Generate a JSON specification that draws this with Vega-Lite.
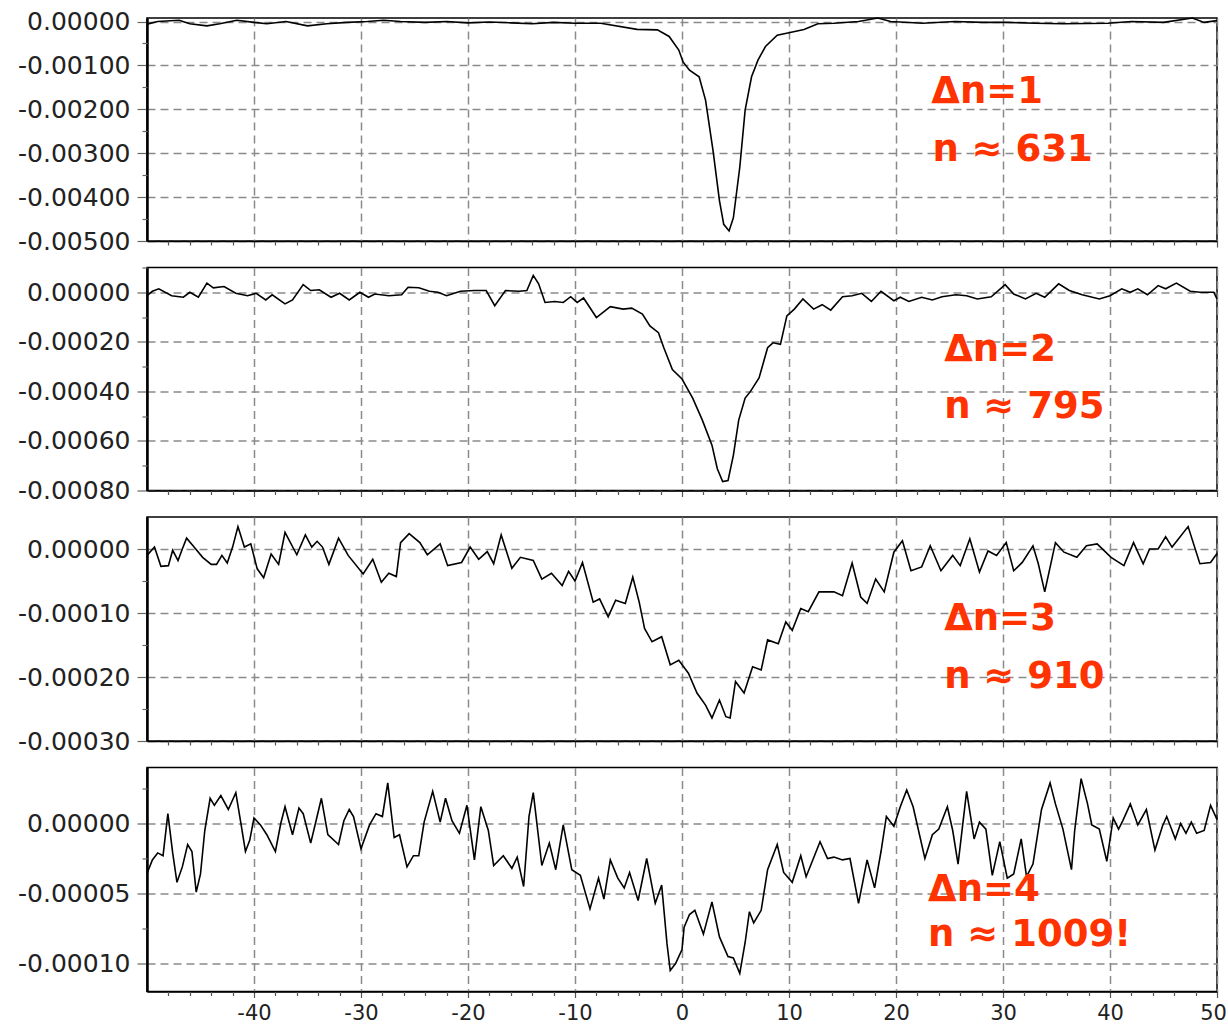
{
  "$schema": "https://vega.github.io/schema/vega-lite/v6.json",
  "padding": {"left": 5, "top": 8, "right": 0, "bottom": 4},
  "bounds": "flush",
  "spacing": 26.5,
  "config": {
    "view": {"stroke": "black", "strokeWidth": 1.5},
    "font": "DejaVu Sans",
    "axis": {"title": null}
  },
  "datasets": {
    "p1": [
      {"x": -50, "y": -0.00006}, {"x": -49, "y": 0.0}, {"x": -47, "y": 0.00003}, {"x": -46, "y": -0.00005},
      {"x": -44.4, "y": -0.0001}, {"x": -43.2, "y": -0.00005}, {"x": -41.6, "y": 0.00003}, {"x": -40, "y": -0.00002},
      {"x": -38.8, "y": -0.00005}, {"x": -37, "y": 0.0}, {"x": -35, "y": -0.0001}, {"x": -33.2, "y": -0.00005},
      {"x": -31.3, "y": -0.00002}, {"x": -29.4, "y": 0.0}, {"x": -27.9, "y": 0.00003}, {"x": -26.3, "y": 0.0},
      {"x": -24, "y": -0.00002}, {"x": -22, "y": 0.0}, {"x": -20, "y": -0.00003}, {"x": -18, "y": -0.00001},
      {"x": -16, "y": -0.00003}, {"x": -14, "y": -0.00005}, {"x": -12, "y": -0.00002}, {"x": -10, "y": -0.00004},
      {"x": -7.6, "y": -0.00004}, {"x": -4.2, "y": -0.00018}, {"x": -2.3, "y": -0.00019}, {"x": -1.2, "y": -0.00034},
      {"x": -0.3, "y": -0.00065}, {"x": 0.1, "y": -0.00092}, {"x": 0.7, "y": -0.00111}, {"x": 1.6, "y": -0.00126},
      {"x": 2.2, "y": -0.00179}, {"x": 2.9, "y": -0.00294}, {"x": 3.5, "y": -0.00408}, {"x": 3.9, "y": -0.00462},
      {"x": 4.4, "y": -0.00477}, {"x": 4.8, "y": -0.00447}, {"x": 5.4, "y": -0.00332}, {"x": 5.9, "y": -0.00202},
      {"x": 6.5, "y": -0.00126}, {"x": 7.1, "y": -0.00088}, {"x": 7.8, "y": -0.00057}, {"x": 8.9, "y": -0.00031},
      {"x": 10.1, "y": -0.00025}, {"x": 11.4, "y": -0.00018}, {"x": 12.7, "y": -0.00005}, {"x": 14.2, "y": -0.00004},
      {"x": 16.5, "y": 0.0}, {"x": 18.3, "y": 0.00008}, {"x": 19.5, "y": 0.0}, {"x": 22.5, "y": -0.00004},
      {"x": 25.5, "y": 0.0}, {"x": 28.1, "y": -0.00002}, {"x": 30.4, "y": -0.00002}, {"x": 33, "y": -0.00004},
      {"x": 35.6, "y": -0.00005}, {"x": 39.8, "y": -0.00004}, {"x": 42, "y": 0.0}, {"x": 45, "y": -0.00002},
      {"x": 47.7, "y": 0.00008}, {"x": 48.8, "y": -0.00002}, {"x": 50, "y": 0.00002}
    ],
    "p2": [
      {"x": -50, "y": -1.4e-5}, {"x": -49.5, "y": 0.4e-5}, {"x": -48.9, "y": 1.4e-5}, {"x": -47.7, "y": -1.4e-5},
      {"x": -46.6, "y": -2.0e-5}, {"x": -46.0, "y": 0.0}, {"x": -45.2, "y": -2.0e-5}, {"x": -44.4, "y": 3.7e-5},
      {"x": -43.8, "y": 1.8e-5}, {"x": -42.8, "y": 2.3e-5}, {"x": -41.7, "y": -0.4e-5}, {"x": -40.6, "y": -1.4e-5},
      {"x": -39.8, "y": -0.4e-5}, {"x": -38.9, "y": -3.1e-5}, {"x": -38.3, "y": -1.0e-5}, {"x": -37.1, "y": -4.7e-5},
      {"x": -36.4, "y": -3.1e-5}, {"x": -35.4, "y": 3.1e-5}, {"x": -34.7, "y": 0.7e-5}, {"x": -33.9, "y": 1.0e-5},
      {"x": -32.8, "y": -2.0e-5}, {"x": -32.0, "y": -0.4e-5}, {"x": -31.1, "y": -3.1e-5}, {"x": -30.1, "y": 0.0},
      {"x": -29.3, "y": -2.0e-5}, {"x": -28.7, "y": -0.7e-5}, {"x": -27.4, "y": -1.4e-5}, {"x": -26.2, "y": -1.0e-5},
      {"x": -25.6, "y": 2.0e-5}, {"x": -24.6, "y": 1.8e-5}, {"x": -23.6, "y": 0.4e-5}, {"x": -22.8, "y": 0.0},
      {"x": -22.0, "y": -1.4e-5}, {"x": -20.7, "y": 0.4e-5}, {"x": -19.4, "y": 0.7e-5}, {"x": -18.3, "y": 0.7e-5},
      {"x": -17.5, "y": -5.4e-5}, {"x": -16.5, "y": 0.7e-5}, {"x": -15.2, "y": 0.4e-5}, {"x": -14.5, "y": 0.7e-5},
      {"x": -13.9, "y": 6.8e-5}, {"x": -13.4, "y": 3.4e-5}, {"x": -12.8, "y": -4.1e-5}, {"x": -11.9, "y": -3.7e-5},
      {"x": -11.1, "y": -4.1e-5}, {"x": -10.4, "y": -1.8e-5}, {"x": -9.8, "y": -4.1e-5}, {"x": -9.2, "y": -2.3e-5},
      {"x": -8.0, "y": -10.2e-5}, {"x": -6.7, "y": -5.8e-5}, {"x": -5.5, "y": -6.8e-5}, {"x": -4.7, "y": -6.4e-5},
      {"x": -3.7, "y": -8.8e-5}, {"x": -3.0, "y": -13.6e-5}, {"x": -2.2, "y": -16.3e-5}, {"x": -1.7, "y": -22.4e-5},
      {"x": -0.9, "y": -31.2e-5}, {"x": 0.0, "y": -35.0e-5}, {"x": 1.0, "y": -42.7e-5}, {"x": 1.9, "y": -51.6e-5},
      {"x": 2.8, "y": -61.7e-5}, {"x": 3.3, "y": -71.2e-5}, {"x": 3.8, "y": -76.4e-5}, {"x": 4.3, "y": -76.0e-5},
      {"x": 4.8, "y": -65.8e-5}, {"x": 5.3, "y": -51.6e-5}, {"x": 5.9, "y": -42.7e-5}, {"x": 6.4, "y": -40.0e-5},
      {"x": 7.2, "y": -34.6e-5}, {"x": 8.0, "y": -22.4e-5}, {"x": 8.5, "y": -20.4e-5}, {"x": 9.2, "y": -21.0e-5},
      {"x": 9.8, "y": -9.5e-5}, {"x": 10.5, "y": -6.8e-5}, {"x": 11.3, "y": -2.7e-5}, {"x": 12.3, "y": -6.8e-5},
      {"x": 13.1, "y": -5.0e-5}, {"x": 13.9, "y": -7.2e-5}, {"x": 15.0, "y": -1.8e-5}, {"x": 15.9, "y": -1.4e-5},
      {"x": 16.8, "y": -0.4e-5}, {"x": 17.7, "y": -3.7e-5}, {"x": 18.6, "y": 0.4e-5}, {"x": 19.8, "y": -3.4e-5},
      {"x": 20.4, "y": -2.0e-5}, {"x": 21.2, "y": -3.7e-5}, {"x": 22.4, "y": -2.0e-5}, {"x": 23.4, "y": -3.1e-5},
      {"x": 24.3, "y": -1.8e-5}, {"x": 25.6, "y": -1.0e-5}, {"x": 26.6, "y": -1.4e-5}, {"x": 27.6, "y": -2.7e-5},
      {"x": 28.9, "y": -1.8e-5}, {"x": 30.2, "y": 3.1e-5}, {"x": 31.0, "y": -0.7e-5}, {"x": 32.1, "y": -2.7e-5},
      {"x": 33.1, "y": -0.4e-5}, {"x": 33.9, "y": -2.0e-5}, {"x": 35.2, "y": 3.4e-5}, {"x": 36.2, "y": 0.7e-5},
      {"x": 37.4, "y": -1.0e-5}, {"x": 39.0, "y": -2.7e-5}, {"x": 40.0, "y": -1.4e-5}, {"x": 41.1, "y": 1.4e-5},
      {"x": 41.9, "y": 0.0}, {"x": 42.6, "y": 1.4e-5}, {"x": 43.5, "y": -1.0e-5}, {"x": 44.5, "y": 2.7e-5},
      {"x": 45.2, "y": 1.4e-5}, {"x": 46.2, "y": 3.7e-5}, {"x": 47.5, "y": 0.4e-5}, {"x": 48.4, "y": 0.0},
      {"x": 49.7, "y": 0.0}, {"x": 50.0, "y": -2.7e-5}
    ],
    "p3": [
      {"x": -50, "y": -1.0e-5}, {"x": -49.3, "y": 0.3e-5}, {"x": -48.7, "y": -2.7e-5}, {"x": -48.0, "y": -2.6e-5},
      {"x": -47.6, "y": -0.2e-5}, {"x": -47.1, "y": -1.8e-5}, {"x": -46.7, "y": 0.0}, {"x": -46.3, "y": 1.7e-5},
      {"x": -45.6, "y": 0.3e-5}, {"x": -44.8, "y": -1.3e-5}, {"x": -44.0, "y": -2.4e-5}, {"x": -43.5, "y": -2.4e-5},
      {"x": -43.0, "y": -1.0e-5}, {"x": -42.5, "y": -2.2e-5}, {"x": -42.0, "y": 0.3e-5}, {"x": -41.5, "y": 3.5e-5},
      {"x": -40.9, "y": 0.3e-5}, {"x": -40.3, "y": 0.8e-5}, {"x": -39.7, "y": -3.1e-5}, {"x": -39.1, "y": -4.5e-5},
      {"x": -38.4, "y": -0.8e-5}, {"x": -37.7, "y": -2.4e-5}, {"x": -37.1, "y": 2.6e-5}, {"x": -36.0, "y": -0.9e-5},
      {"x": -35.2, "y": 2.2e-5}, {"x": -34.6, "y": 0.3e-5}, {"x": -34.1, "y": 1.2e-5}, {"x": -33.6, "y": 0.3e-5},
      {"x": -33.0, "y": -2.4e-5}, {"x": -32.1, "y": 1.7e-5}, {"x": -31.2, "y": -1.0e-5}, {"x": -29.8, "y": -3.9e-5},
      {"x": -28.9, "y": -1.6e-5}, {"x": -28.1, "y": -5.2e-5}, {"x": -27.4, "y": -3.8e-5}, {"x": -26.7, "y": -4.3e-5},
      {"x": -26.3, "y": 1.0e-5}, {"x": -25.5, "y": 2.4e-5}, {"x": -24.5, "y": 1.0e-5}, {"x": -23.8, "y": -0.9e-5},
      {"x": -22.6, "y": 0.8e-5}, {"x": -21.9, "y": -2.6e-5}, {"x": -20.6, "y": -2.1e-5}, {"x": -19.8, "y": 0.3e-5},
      {"x": -19.0, "y": -1.6e-5}, {"x": -18.2, "y": -0.4e-5}, {"x": -17.6, "y": -2.3e-5}, {"x": -16.9, "y": 2.2e-5},
      {"x": -15.9, "y": -3.0e-5}, {"x": -15.1, "y": -1.3e-5}, {"x": -13.9, "y": -1.8e-5}, {"x": -13.1, "y": -4.7e-5},
      {"x": -12.2, "y": -3.8e-5}, {"x": -11.2, "y": -5.7e-5}, {"x": -10.6, "y": -3.5e-5}, {"x": -10.0, "y": -5.0e-5},
      {"x": -9.3, "y": -2.1e-5}, {"x": -8.3, "y": -8.3e-5}, {"x": -7.7, "y": -7.8e-5}, {"x": -6.9, "y": -10.6e-5},
      {"x": -6.2, "y": -8.0e-5}, {"x": -5.3, "y": -8.5e-5}, {"x": -4.6, "y": -4.4e-5}, {"x": -4.0, "y": -8.3e-5},
      {"x": -3.5, "y": -12.4e-5}, {"x": -2.8, "y": -14.5e-5}, {"x": -1.9, "y": -13.7e-5}, {"x": -1.1, "y": -18.1e-5},
      {"x": -0.3, "y": -17.4e-5}, {"x": 0.6, "y": -19.4e-5}, {"x": 1.4, "y": -22.5e-5}, {"x": 2.2, "y": -24.4e-5},
      {"x": 2.8, "y": -26.4e-5}, {"x": 3.5, "y": -23.6e-5}, {"x": 4.1, "y": -26.2e-5}, {"x": 4.5, "y": -26.4e-5},
      {"x": 5.0, "y": -20.7e-5}, {"x": 5.8, "y": -22.5e-5}, {"x": 6.6, "y": -18.4e-5}, {"x": 7.4, "y": -18.9e-5},
      {"x": 8.0, "y": -14.2e-5}, {"x": 9.0, "y": -14.8e-5}, {"x": 9.7, "y": -11.4e-5}, {"x": 10.3, "y": -12.7e-5},
      {"x": 11.1, "y": -9.3e-5}, {"x": 11.8, "y": -9.8e-5}, {"x": 12.8, "y": -6.7e-5}, {"x": 14.2, "y": -6.7e-5},
      {"x": 15.0, "y": -7.3e-5}, {"x": 15.9, "y": -2.2e-5}, {"x": 16.7, "y": -7.5e-5}, {"x": 17.3, "y": -8.5e-5},
      {"x": 18.1, "y": -4.7e-5}, {"x": 18.9, "y": -6.7e-5}, {"x": 19.8, "y": -0.5e-5}, {"x": 20.6, "y": 1.3e-5},
      {"x": 21.4, "y": -3.4e-5}, {"x": 22.4, "y": -2.8e-5}, {"x": 23.2, "y": 0.5e-5}, {"x": 24.2, "y": -3.4e-5},
      {"x": 25.3, "y": -1.0e-5}, {"x": 26.0, "y": -2.6e-5}, {"x": 26.9, "y": 1.6e-5}, {"x": 27.8, "y": -3.6e-5},
      {"x": 28.6, "y": -0.3e-5}, {"x": 29.4, "y": -1.0e-5}, {"x": 30.3, "y": 1.0e-5}, {"x": 31.0, "y": -3.4e-5},
      {"x": 31.8, "y": -2.1e-5}, {"x": 32.8, "y": 0.5e-5}, {"x": 33.3, "y": -2.3e-5}, {"x": 33.9, "y": -6.7e-5},
      {"x": 34.9, "y": 1.0e-5}, {"x": 35.7, "y": -0.5e-5}, {"x": 36.9, "y": -1.3e-5}, {"x": 37.8, "y": 0.5e-5},
      {"x": 38.8, "y": 0.8e-5}, {"x": 40.1, "y": -1.3e-5}, {"x": 41.3, "y": -2.6e-5}, {"x": 42.2, "y": 1.0e-5},
      {"x": 43.1, "y": -2.3e-5}, {"x": 43.7, "y": 0.0}, {"x": 44.5, "y": 0.0}, {"x": 45.2, "y": 1.9e-5},
      {"x": 45.8, "y": 0.3e-5}, {"x": 47.3, "y": 3.5e-5}, {"x": 48.4, "y": -2.3e-5}, {"x": 49.4, "y": -2.1e-5},
      {"x": 50.0, "y": -0.7e-5}
    ],
    "p4": [
      {"x": -50, "y": -3.57e-5}, {"x": -49.5, "y": -2.6e-5}, {"x": -49.0, "y": -2.1e-5}, {"x": -48.5, "y": -2.3e-5},
      {"x": -48.05, "y": 0.7e-5}, {"x": -47.6, "y": -2.1e-5}, {"x": -47.2, "y": -4.2e-5}, {"x": -46.7, "y": -3.1e-5},
      {"x": -46.2, "y": -1.5e-5}, {"x": -45.8, "y": -2.0e-5}, {"x": -45.4, "y": -4.9e-5}, {"x": -45.0, "y": -3.6e-5},
      {"x": -44.6, "y": -0.5e-5}, {"x": -44.1, "y": 1.8e-5}, {"x": -43.7, "y": 1.3e-5}, {"x": -43.1, "y": 2.0e-5},
      {"x": -42.4, "y": 1.0e-5}, {"x": -41.7, "y": 2.2e-5}, {"x": -41.2, "y": -0.1e-5}, {"x": -40.8, "y": -2.0e-5},
      {"x": -40.4, "y": -1.2e-5}, {"x": -40.0, "y": 0.4e-5}, {"x": -39.4, "y": -0.1e-5}, {"x": -38.8, "y": -0.8e-5},
      {"x": -38.0, "y": -2.0e-5}, {"x": -37.5, "y": 0.0}, {"x": -37.1, "y": 1.2e-5}, {"x": -36.4, "y": -0.8e-5},
      {"x": -35.8, "y": 1.1e-5}, {"x": -35.4, "y": 0.7e-5}, {"x": -34.7, "y": -1.4e-5}, {"x": -34.2, "y": 0.2e-5},
      {"x": -33.7, "y": 1.8e-5}, {"x": -33.1, "y": -0.8e-5}, {"x": -32.1, "y": -1.5e-5}, {"x": -31.6, "y": 0.2e-5},
      {"x": -31.1, "y": 1.0e-5}, {"x": -30.7, "y": 0.5e-5}, {"x": -30.0, "y": -1.8e-5}, {"x": -29.2, "y": -0.1e-5},
      {"x": -28.6, "y": 0.7e-5}, {"x": -28.0, "y": 0.5e-5}, {"x": -27.5, "y": 2.9e-5}, {"x": -26.9, "y": -1.0e-5},
      {"x": -26.4, "y": -0.8e-5}, {"x": -25.7, "y": -3.1e-5}, {"x": -25.1, "y": -2.3e-5}, {"x": -24.6, "y": -2.3e-5},
      {"x": -24.1, "y": 0.1e-5}, {"x": -23.3, "y": 2.3e-5}, {"x": -22.6, "y": 0.1e-5}, {"x": -22.1, "y": 1.8e-5},
      {"x": -21.5, "y": 0.2e-5}, {"x": -20.8, "y": -0.7e-5}, {"x": -20.1, "y": 1.3e-5}, {"x": -19.4, "y": -2.6e-5},
      {"x": -18.8, "y": 1.2e-5}, {"x": -18.1, "y": -0.5e-5}, {"x": -17.6, "y": -3.0e-5}, {"x": -16.7, "y": -2.3e-5},
      {"x": -15.9, "y": -3.2e-5}, {"x": -15.4, "y": -2.4e-5}, {"x": -14.8, "y": -4.5e-5}, {"x": -14.3, "y": 0.5e-5},
      {"x": -13.9, "y": 2.2e-5}, {"x": -13.5, "y": -0.4e-5}, {"x": -13.1, "y": -3.0e-5}, {"x": -12.4, "y": -1.4e-5},
      {"x": -11.8, "y": -3.3e-5}, {"x": -11.1, "y": -0.1e-5}, {"x": -10.3, "y": -3.3e-5}, {"x": -9.5, "y": -3.7e-5},
      {"x": -8.6, "y": -6.1e-5}, {"x": -7.8, "y": -3.9e-5}, {"x": -7.3, "y": -5.4e-5}, {"x": -6.7, "y": -2.6e-5},
      {"x": -6.0, "y": -3.9e-5}, {"x": -5.4, "y": -4.6e-5}, {"x": -4.9, "y": -3.5e-5}, {"x": -4.1, "y": -5.5e-5},
      {"x": -3.3, "y": -2.5e-5}, {"x": -2.5, "y": -5.7e-5}, {"x": -1.9, "y": -4.4e-5}, {"x": -1.4, "y": -8.6e-5},
      {"x": -1.1, "y": -10.5e-5}, {"x": -0.6, "y": -10.0e-5}, {"x": 0.0, "y": -9.0e-5}, {"x": 0.2, "y": -7.4e-5},
      {"x": 0.7, "y": -6.5e-5}, {"x": 1.2, "y": -6.2e-5}, {"x": 2.0, "y": -7.9e-5}, {"x": 2.8, "y": -5.6e-5},
      {"x": 3.5, "y": -8.1e-5}, {"x": 4.3, "y": -9.5e-5}, {"x": 4.8, "y": -9.6e-5}, {"x": 5.4, "y": -10.7e-5},
      {"x": 5.9, "y": -8.5e-5}, {"x": 6.3, "y": -6.3e-5}, {"x": 6.7, "y": -7.1e-5}, {"x": 7.4, "y": -6.2e-5},
      {"x": 8.0, "y": -3.3e-5}, {"x": 8.9, "y": -1.5e-5}, {"x": 9.5, "y": -3.5e-5}, {"x": 10.3, "y": -4.2e-5},
      {"x": 11.1, "y": -2.3e-5}, {"x": 11.6, "y": -3.8e-5}, {"x": 12.9, "y": -1.3e-5}, {"x": 13.6, "y": -2.5e-5},
      {"x": 14.2, "y": -2.4e-5}, {"x": 15.0, "y": -2.6e-5}, {"x": 15.7, "y": -2.5e-5}, {"x": 16.5, "y": -5.7e-5},
      {"x": 17.3, "y": -2.6e-5}, {"x": 18.0, "y": -4.6e-5}, {"x": 18.6, "y": -2.0e-5}, {"x": 19.1, "y": 0.5e-5},
      {"x": 19.8, "y": -0.2e-5}, {"x": 20.4, "y": 1.2e-5}, {"x": 21.0, "y": 2.4e-5}, {"x": 21.6, "y": 1.2e-5},
      {"x": 22.7, "y": -2.5e-5}, {"x": 23.4, "y": -0.8e-5}, {"x": 24.0, "y": -0.4e-5}, {"x": 24.8, "y": 1.2e-5},
      {"x": 25.3, "y": -0.5e-5}, {"x": 25.8, "y": -2.9e-5}, {"x": 26.6, "y": 2.3e-5}, {"x": 27.3, "y": -1.1e-5},
      {"x": 27.8, "y": 0.1e-5}, {"x": 28.4, "y": -0.4e-5}, {"x": 29.0, "y": -3.7e-5}, {"x": 29.7, "y": -1.3e-5},
      {"x": 30.4, "y": -3.9e-5}, {"x": 31.0, "y": -3.6e-5}, {"x": 31.7, "y": -1.1e-5}, {"x": 32.2, "y": -3.8e-5},
      {"x": 32.8, "y": -2.9e-5}, {"x": 33.6, "y": 1.0e-5}, {"x": 34.4, "y": 2.9e-5}, {"x": 34.9, "y": 1.4e-5},
      {"x": 35.6, "y": -0.4e-5}, {"x": 36.4, "y": -3.3e-5}, {"x": 36.7, "y": -0.5e-5}, {"x": 37.3, "y": 3.2e-5},
      {"x": 37.9, "y": 1.4e-5}, {"x": 38.3, "y": -0.1e-5}, {"x": 39.0, "y": -0.4e-5}, {"x": 39.7, "y": -2.7e-5},
      {"x": 40.3, "y": 0.4e-5}, {"x": 40.8, "y": -0.4e-5}, {"x": 41.2, "y": 0.2e-5}, {"x": 41.9, "y": 1.4e-5},
      {"x": 42.6, "y": -0.1e-5}, {"x": 43.4, "y": 1.0e-5}, {"x": 44.2, "y": -1.9e-5}, {"x": 44.9, "y": -0.2e-5},
      {"x": 45.3, "y": 0.5e-5}, {"x": 46.1, "y": -1.1e-5}, {"x": 46.6, "y": 0.0}, {"x": 47.1, "y": -0.7e-5},
      {"x": 47.6, "y": 0.1e-5}, {"x": 48.1, "y": -0.7e-5}, {"x": 48.8, "y": -0.5e-5}, {"x": 49.4, "y": 1.3e-5},
      {"x": 50.0, "y": 0.3e-5}
    ],
    "notes": [
      {"panel": 1, "x": 23.3, "y": -0.00186, "label": "Δn=1"},
      {"panel": 1, "x": 23.4, "y": -0.00318, "label": "n ≈ 631"},
      {"panel": 2, "x": 24.5, "y": -0.000278, "label": "Δn=2"},
      {"panel": 2, "x": 24.5, "y": -0.000506, "label": "n ≈ 795"},
      {"panel": 3, "x": 24.5, "y": -0.000127, "label": "Δn=3"},
      {"panel": 3, "x": 24.5, "y": -0.000217, "label": "n ≈ 910"},
      {"panel": 4, "x": 23.0, "y": -0.0000555, "label": "Δn=4"},
      {"panel": 4, "x": 23.0, "y": -0.0000876, "label": "n ≈ 1009!"}
    ]
  },
  "vconcat": [
    {
      "width": 1070, "height": 223,
      "resolve": {"axis": {"x": "independent", "y": "independent"}},
      "layer": [
        {
          "data": {"name": "p1"},
          "mark": {"type": "line", "color": "black", "strokeWidth": 1.6},
          "encoding": {
            "x": {"field": "x", "type": "quantitative", "scale": {"domain": [-50, 50], "nice": false, "zero": false},
              "axis": {"orient": "bottom", "values": [-40, -30, -20, -10, 0, 10, 20, 30, 40, 50], "labels": false, "tickSize": 6, "tickColor": "#555", "tickWidth": 1.2, "domainColor": "black", "domainWidth": 1.5, "grid": true, "gridDash": [8, 5], "gridColor": "#8a8a8a", "gridWidth": 1.5}},
            "y": {"field": "y", "type": "quantitative", "scale": {"domain": [-0.005, 0.00008], "nice": false, "zero": false},
              "axis": {"orient": "left", "values": [0, -0.001, -0.002, -0.003, -0.004, -0.005], "tickSize": 10, "tickColor": "#666", "tickWidth": 1.2, "domainColor": "black", "domainWidth": 2.5, "labelFont": "DejaVu Sans", "labelFontSize": 25, "labelColor": "#222", "labelPadding": 7, "grid": true, "gridDash": [8, 5], "gridColor": "#8a8a8a", "gridWidth": 1.5, "labelExpr": "replace(format(datum.value, '.5f'), '−', '-')", "minExtent": 141, "maxExtent": 141}}
          }
        },
        {
          "data": {"name": "p1"},
          "mark": {"type": "line", "opacity": 0},
          "encoding": {
            "x": {"field": "x", "type": "quantitative", "scale": {"domain": [-50, 50], "nice": false, "zero": false},
              "axis": {"orient": "bottom", "values": [-48, -46, -44, -42, -38, -36, -34, -32, -28, -26, -24, -22, -18, -16, -14, -12, -8, -6, -4, -2, 2, 4, 6, 8, 12, 14, 16, 18, 22, 24, 26, 28, 32, 34, 36, 38, 42, 44, 46, 48], "labels": false, "tickSize": 4, "tickColor": "#555", "tickWidth": 1.2, "domain": false, "grid": false}},
            "y": {"field": "y", "type": "quantitative", "scale": {"domain": [-0.005, 0.00008], "nice": false, "zero": false},
              "axis": {"orient": "left", "values": [-0.0005, -0.0015, -0.0025, -0.0035, -0.0045], "labels": false, "tickSize": 5, "tickColor": "#666", "tickWidth": 1.2, "domain": false, "grid": false, "minExtent": 0}}
          }
        },
        {
          "data": {"name": "notes"},
          "transform": [{"filter": "datum.panel == 1"}],
          "mark": {"type": "text", "align": "left", "baseline": "alphabetic", "font": "DejaVu Sans", "fontWeight": "bold", "fontSize": 37, "color": "#ff3300"},
          "encoding": {
            "x": {"field": "x", "type": "quantitative", "axis": null},
            "y": {"field": "y", "type": "quantitative", "axis": null},
            "text": {"field": "label"}
          }
        }
      ]
    },
    {
      "width": 1070, "height": 223,
      "resolve": {"axis": {"x": "independent", "y": "independent"}},
      "layer": [
        {
          "data": {"name": "p2"},
          "mark": {"type": "line", "color": "black", "strokeWidth": 1.6},
          "encoding": {
            "x": {"field": "x", "type": "quantitative", "scale": {"domain": [-50, 50], "nice": false, "zero": false},
              "axis": {"orient": "bottom", "values": [-40, -30, -20, -10, 0, 10, 20, 30, 40, 50], "labels": false, "tickSize": 6, "tickColor": "#555", "tickWidth": 1.2, "domainColor": "black", "domainWidth": 1.5, "grid": true, "gridDash": [8, 5], "gridColor": "#8a8a8a", "gridWidth": 1.5}},
            "y": {"field": "y", "type": "quantitative", "scale": {"domain": [-0.0008, 0.0001], "nice": false, "zero": false},
              "axis": {"orient": "left", "values": [0, -0.0002, -0.0004, -0.0006, -0.0008], "tickSize": 10, "tickColor": "#666", "tickWidth": 1.2, "domainColor": "black", "domainWidth": 2.5, "labelFont": "DejaVu Sans", "labelFontSize": 25, "labelColor": "#222", "labelPadding": 7, "grid": true, "gridDash": [8, 5], "gridColor": "#8a8a8a", "gridWidth": 1.5, "labelExpr": "replace(format(datum.value, '.5f'), '−', '-')", "minExtent": 141, "maxExtent": 141}}
          }
        },
        {
          "data": {"name": "p2"},
          "mark": {"type": "line", "opacity": 0},
          "encoding": {
            "x": {"field": "x", "type": "quantitative", "scale": {"domain": [-50, 50], "nice": false, "zero": false},
              "axis": {"orient": "bottom", "values": [-48, -46, -44, -42, -38, -36, -34, -32, -28, -26, -24, -22, -18, -16, -14, -12, -8, -6, -4, -2, 2, 4, 6, 8, 12, 14, 16, 18, 22, 24, 26, 28, 32, 34, 36, 38, 42, 44, 46, 48], "labels": false, "tickSize": 4, "tickColor": "#555", "tickWidth": 1.2, "domain": false, "grid": false}},
            "y": {"field": "y", "type": "quantitative", "scale": {"domain": [-0.0008, 0.0001], "nice": false, "zero": false},
              "axis": {"orient": "left", "values": [0.0001, -0.0001, -0.0003, -0.0005, -0.0007], "labels": false, "tickSize": 5, "tickColor": "#666", "tickWidth": 1.2, "domain": false, "grid": false, "minExtent": 0}}
          }
        },
        {
          "data": {"name": "notes"},
          "transform": [{"filter": "datum.panel == 2"}],
          "mark": {"type": "text", "align": "left", "baseline": "alphabetic", "font": "DejaVu Sans", "fontWeight": "bold", "fontSize": 37, "color": "#ff3300"},
          "encoding": {
            "x": {"field": "x", "type": "quantitative", "axis": null},
            "y": {"field": "y", "type": "quantitative", "axis": null},
            "text": {"field": "label"}
          }
        }
      ]
    },
    {
      "width": 1070, "height": 224,
      "resolve": {"axis": {"x": "independent", "y": "independent"}},
      "layer": [
        {
          "data": {"name": "p3"},
          "mark": {"type": "line", "color": "black", "strokeWidth": 1.6},
          "encoding": {
            "x": {"field": "x", "type": "quantitative", "scale": {"domain": [-50, 50], "nice": false, "zero": false},
              "axis": {"orient": "bottom", "values": [-40, -30, -20, -10, 0, 10, 20, 30, 40, 50], "labels": false, "tickSize": 6, "tickColor": "#555", "tickWidth": 1.2, "domainColor": "black", "domainWidth": 1.5, "grid": true, "gridDash": [8, 5], "gridColor": "#8a8a8a", "gridWidth": 1.5}},
            "y": {"field": "y", "type": "quantitative", "scale": {"domain": [-0.0003, 0.00005], "nice": false, "zero": false},
              "axis": {"orient": "left", "values": [0, -0.0001, -0.0002, -0.0003], "tickSize": 10, "tickColor": "#666", "tickWidth": 1.2, "domainColor": "black", "domainWidth": 2.5, "labelFont": "DejaVu Sans", "labelFontSize": 25, "labelColor": "#222", "labelPadding": 7, "grid": true, "gridDash": [8, 5], "gridColor": "#8a8a8a", "gridWidth": 1.5, "labelExpr": "replace(format(datum.value, '.5f'), '−', '-')", "minExtent": 141, "maxExtent": 141}}
          }
        },
        {
          "data": {"name": "p3"},
          "mark": {"type": "line", "opacity": 0},
          "encoding": {
            "x": {"field": "x", "type": "quantitative", "scale": {"domain": [-50, 50], "nice": false, "zero": false},
              "axis": {"orient": "bottom", "values": [-48, -46, -44, -42, -38, -36, -34, -32, -28, -26, -24, -22, -18, -16, -14, -12, -8, -6, -4, -2, 2, 4, 6, 8, 12, 14, 16, 18, 22, 24, 26, 28, 32, 34, 36, 38, 42, 44, 46, 48], "labels": false, "tickSize": 4, "tickColor": "#555", "tickWidth": 1.2, "domain": false, "grid": false}},
            "y": {"field": "y", "type": "quantitative", "scale": {"domain": [-0.0003, 0.00005], "nice": false, "zero": false},
              "axis": {"orient": "left", "values": [-0.00005, -0.00015, -0.00025], "labels": false, "tickSize": 5, "tickColor": "#666", "tickWidth": 1.2, "domain": false, "grid": false, "minExtent": 0}}
          }
        },
        {
          "data": {"name": "notes"},
          "transform": [{"filter": "datum.panel == 3"}],
          "mark": {"type": "text", "align": "left", "baseline": "alphabetic", "font": "DejaVu Sans", "fontWeight": "bold", "fontSize": 37, "color": "#ff3300"},
          "encoding": {
            "x": {"field": "x", "type": "quantitative", "axis": null},
            "y": {"field": "y", "type": "quantitative", "axis": null},
            "text": {"field": "label"}
          }
        }
      ]
    },
    {
      "width": 1070, "height": 224,
      "resolve": {"axis": {"x": "independent", "y": "independent"}},
      "layer": [
        {
          "data": {"name": "p4"},
          "mark": {"type": "line", "color": "black", "strokeWidth": 1.6},
          "encoding": {
            "x": {"field": "x", "type": "quantitative", "scale": {"domain": [-50, 50], "nice": false, "zero": false},
              "axis": {"orient": "bottom", "values": [-40, -30, -20, -10, 0, 10, 20, 30, 40, 50], "tickSize": 6, "tickColor": "#555", "tickWidth": 1.2, "domainColor": "black", "domainWidth": 1.5, "labelFont": "DejaVu Sans", "labelFontSize": 21, "labelColor": "#222", "labelPadding": 5, "labelFlush": false, "labelOverlap": false, "labelOffset": {"condition": {"test": "datum.value == 50", "value": -4}, "value": 0}, "grid": true, "gridDash": [8, 5], "gridColor": "#8a8a8a", "gridWidth": 1.5, "labelExpr": "replace(format(datum.value, 'd'), '−', '-')"}},
            "y": {"field": "y", "type": "quantitative", "scale": {"domain": [-0.00012, 0.00004], "nice": false, "zero": false},
              "axis": {"orient": "left", "values": [0, -0.00005, -0.0001], "tickSize": 10, "tickColor": "#666", "tickWidth": 1.2, "domainColor": "black", "domainWidth": 2.5, "labelFont": "DejaVu Sans", "labelFontSize": 25, "labelColor": "#222", "labelPadding": 7, "grid": true, "gridDash": [8, 5], "gridColor": "#8a8a8a", "gridWidth": 1.5, "labelExpr": "replace(format(datum.value, '.5f'), '−', '-')", "minExtent": 141, "maxExtent": 141}}
          }
        },
        {
          "data": {"name": "p4"},
          "mark": {"type": "line", "opacity": 0},
          "encoding": {
            "x": {"field": "x", "type": "quantitative", "scale": {"domain": [-50, 50], "nice": false, "zero": false},
              "axis": {"orient": "bottom", "values": [-48, -46, -44, -42, -38, -36, -34, -32, -28, -26, -24, -22, -18, -16, -14, -12, -8, -6, -4, -2, 2, 4, 6, 8, 12, 14, 16, 18, 22, 24, 26, 28, 32, 34, 36, 38, 42, 44, 46, 48], "labels": false, "tickSize": 4, "tickColor": "#555", "tickWidth": 1.2, "domain": false, "grid": false}},
            "y": {"field": "y", "type": "quantitative", "scale": {"domain": [-0.00012, 0.00004], "nice": false, "zero": false},
              "axis": {"orient": "left", "values": [0.000025, -0.000025, -0.000075], "labels": false, "tickSize": 5, "tickColor": "#666", "tickWidth": 1.2, "domain": false, "grid": false, "minExtent": 0}}
          }
        },
        {
          "data": {"name": "notes"},
          "transform": [{"filter": "datum.panel == 4"}],
          "mark": {"type": "text", "align": "left", "baseline": "alphabetic", "font": "DejaVu Sans", "fontWeight": "bold", "fontSize": 37, "color": "#ff3300"},
          "encoding": {
            "x": {"field": "x", "type": "quantitative", "axis": null},
            "y": {"field": "y", "type": "quantitative", "axis": null},
            "text": {"field": "label"}
          }
        }
      ]
    }
  ]
}
